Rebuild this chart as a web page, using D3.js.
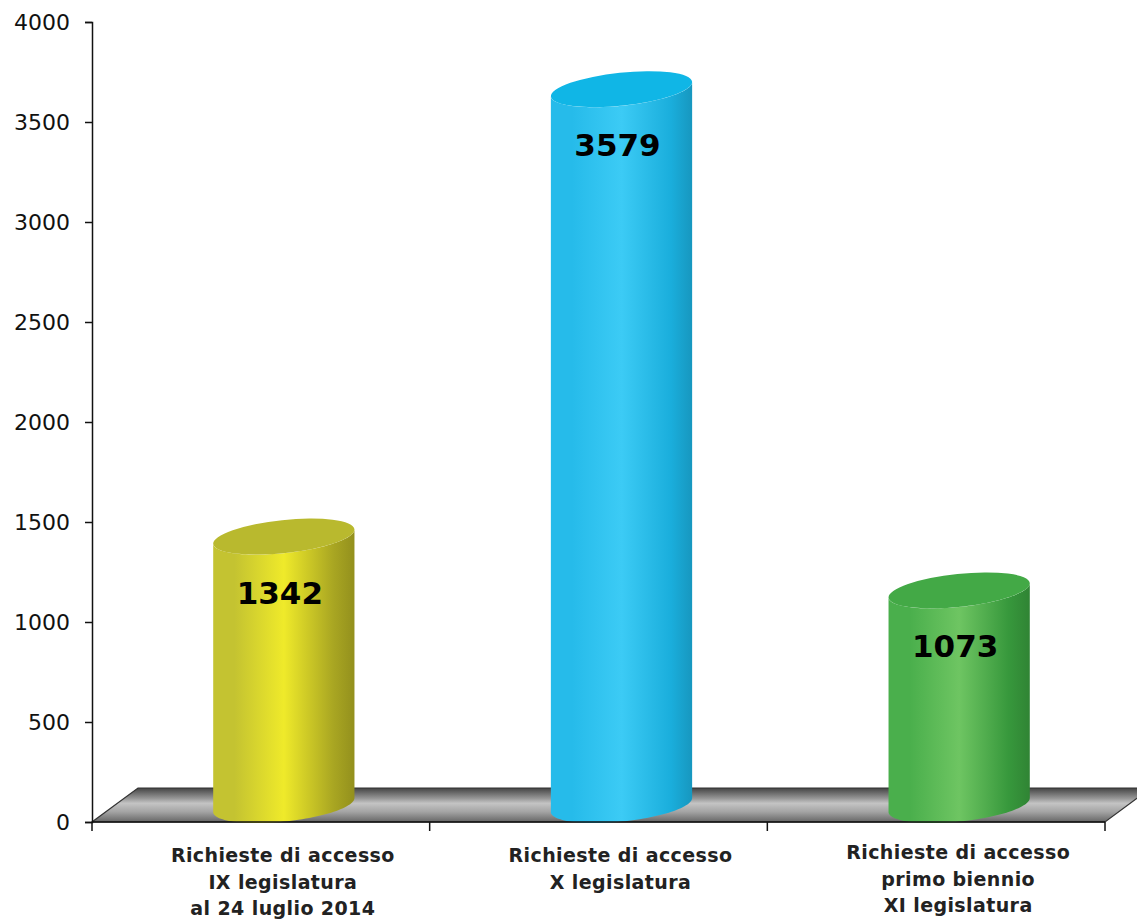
<!DOCTYPE html>
<html>
<head>
<meta charset="utf-8">
<script src="https://cdn.jsdelivr.net/npm/d3@7"></script>
<style>
  html, body { margin: 0; padding: 0; background: #fff; }
</style>
</head>
<body>
<div id="chart"></div>
<script>
const width = 1137;
const height = 919;

const categories = ["IX", "X", "XI"];
const values = [1342, 3579, 1073];
const categoryLabels = [
  ["Richieste di accesso", "IX legislatura", "al 24 luglio 2014"],
  ["Richieste di accesso", "X legislatura"],
  ["Richieste di accesso", "primo biennio", "XI legislatura"]
];
const yTicks = [0, 500, 1000, 1500, 2000, 2500, 3000, 3500, 4000];
const palette = [
  { top: "#b9b92e", edge: "#a9a622", mid: "#efea2a", left: "#c4c331" },
  { top: "#10b6e6", edge: "#1aaedc", mid: "#3ccbf5", left: "#26bbea" },
  { top: "#43a946", edge: "#37983c", mid: "#6ec562", left: "#4aaf4c" }
];

const margin = { left: 92, right: 32, top: 22, bottom: 97 };
const depth = { dx: 46, dy: -34 };

const svg = d3.select("#chart")
  .append("svg")
  .attr("width", width)
  .attr("height", height)
  .style("display", "block");

const x = d3.scaleBand()
  .domain(categories)
  .range([margin.left, width - margin.right])
  .paddingInner(0)
  .paddingOuter(0);

const y = d3.scaleLinear()
  .domain([0, 4000])
  .range([height - margin.bottom, margin.top]);

const defs = svg.append("defs");

// floor gradient
const fg = defs.append("linearGradient")
  .attr("id", "floorGrad")
  .attr("x1", 0).attr("y1", 0).attr("x2", 0).attr("y2", 1);
[[0, "#444"], [0.3, "#959595"], [0.45, "#c4c4c4"], [0.7, "#a4a4a4"], [1, "#666"]]
  .forEach(([o, c]) => fg.append("stop").attr("offset", o).attr("stop-color", c));

palette.forEach((p, i) => {
  const g = defs.append("linearGradient")
    .attr("id", "bodyGrad" + i)
    .attr("x1", 0).attr("y1", 0).attr("x2", 1).attr("y2", 0);
  [[0, p.left], [0.15, p.left], [0.5, p.mid], [0.85, p.edge], [1, d3.color(p.edge).darker(0.4)]]
    .forEach(([o, c]) => g.append("stop").attr("offset", o).attr("stop-color", c));
});

// floor
const y0 = y(0);
const x0 = x.range()[0];
const x1 = x.range()[1];
svg.append("path")
  .attr("d", `M${x0},${y0}L${x1},${y0}L${x1 + depth.dx},${y0 + depth.dy}L${x0 + depth.dx},${y0 + depth.dy}Z`)
  .attr("fill", "url(#floorGrad)")
  .attr("stroke", "#333")
  .attr("stroke-width", 1.2);

// cylinders
const rx = 71;
const ry = 16.5;
const tilt = -6;
const theta = tilt * Math.PI / 180;
const pt = (t) => [
  rx * Math.cos(t) * Math.cos(theta) - ry * Math.sin(t) * Math.sin(theta),
  rx * Math.cos(t) * Math.sin(theta) + ry * Math.sin(t) * Math.cos(theta)
];
const t0 = Math.atan(-ry * Math.sin(theta) / (rx * Math.cos(theta)));

function bodyPath(cx, cyTop, cyBot) {
  const pts = [];
  const n = 60;
  const tL = t0 + Math.PI;
  for (let k = 0; k <= n; k++) {
    const p = pt(tL - (k / n) * Math.PI);
    pts.push([cx + p[0], cyBot + p[1]]);
  }
  for (let k = 0; k <= n; k++) {
    const p = pt(t0 + (k / n) * Math.PI);
    pts.push([cx + p[0], cyTop + p[1]]);
  }
  return d3.line()(pts) + "Z";
}

const cxOf = i => x(categories[i]) + x.bandwidth() / 2 + depth.dx / 2;

const bars = svg.append("g")
  .selectAll("g")
  .data(values)
  .join("g");

bars.append("path")
  .attr("d", (d, i) => bodyPath(cxOf(i), y(d) + depth.dy / 2, y(0) + depth.dy / 2))
  .attr("fill", (d, i) => `url(#bodyGrad${i})`);

bars.append("ellipse")
  .attr("cx", (d, i) => cxOf(i))
  .attr("cy", d => y(d) + depth.dy / 2)
  .attr("rx", rx)
  .attr("ry", ry)
  .attr("transform", (d, i) => `rotate(${tilt} ${cxOf(i)} ${y(d) + depth.dy / 2})`)
  .attr("fill", (d, i) => palette[i].top);

bars.append("text")
  .attr("x", (d, i) => cxOf(i) - 4)
  .attr("y", d => y(d) + 50)
  .attr("text-anchor", "middle")
  .attr("font-family", "DejaVu Sans, sans-serif")
  .attr("font-weight", "bold")
  .attr("font-size", 31)
  .attr("fill", "#000")
  .text(d => d);

// y axis
const yAxis = svg.append("g")
  .attr("transform", `translate(${margin.left},0)`)
  .call(d3.axisLeft(y).tickValues(yTicks).tickSize(7).tickPadding(15).tickFormat(d3.format("d")));
yAxis.select(".domain").attr("stroke", "#111").attr("stroke-width", 1.5);
yAxis.selectAll(".tick line").attr("stroke", "#111").attr("stroke-width", 1.5);
yAxis.selectAll(".tick text")
  .attr("font-family", "DejaVu Sans, sans-serif")
  .attr("font-size", 22)
  .attr("fill", "#111");

// x axis
svg.append("line")
  .attr("x1", x0).attr("x2", x1)
  .attr("y1", y0).attr("y2", y0)
  .attr("stroke", "#111").attr("stroke-width", 1.5);

const boundaries = categories.map(c => x(c)).concat([x1]);
svg.append("g")
  .selectAll("line")
  .data(boundaries)
  .join("line")
  .attr("x1", d => d).attr("x2", d => d)
  .attr("y1", y0).attr("y2", y0 + 9)
  .attr("stroke", "#111").attr("stroke-width", 1.5);

// category labels
const labels = svg.append("g")
  .selectAll("text")
  .data(categoryLabels)
  .join("text")
  .attr("x", (d, i) => cxOf(i) - 1)
  .attr("y", (d, i) => i === 2 ? 859 : 862)
  .attr("text-anchor", "middle")
  .attr("font-family", "DejaVu Sans, sans-serif")
  .attr("font-weight", "bold")
  .attr("font-size", 19)
  .attr("letter-spacing", 0.4)
  .attr("fill", "#222");

labels.selectAll("tspan")
  .data(d => d)
  .join("tspan")
  .attr("x", function () { return d3.select(this.parentNode).attr("x"); })
  .attr("dy", (d, j) => j === 0 ? 0 : 26.5)
  .text(d => d);
</script>
</body>
</html>
